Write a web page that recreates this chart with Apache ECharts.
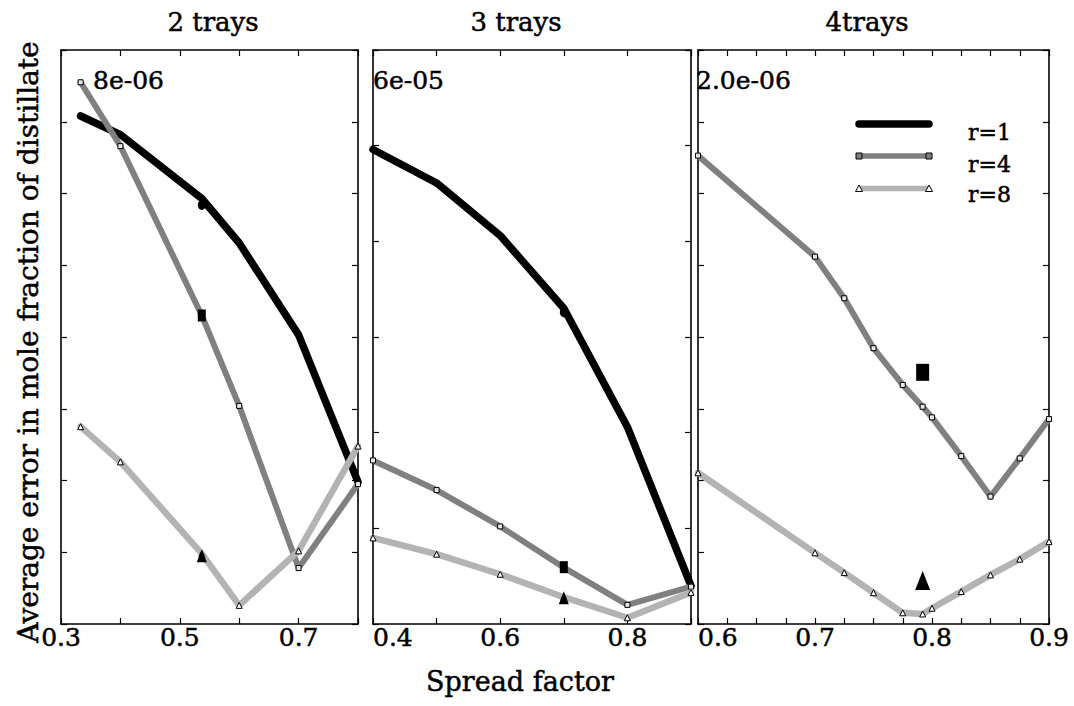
<!DOCTYPE html>
<html><head><meta charset="utf-8">
<script src="https://cdn.jsdelivr.net/npm/echarts@6/dist/echarts.min.js"></script>
<style>html,body{margin:0;padding:0;background:#fff}#c{width:1074px;height:706px}</style>
</head><body><div id="c"></div>
<script>
// ---------- data ----------
const panelTitles = ['2 trays', '3 trays', '4trays'];
const scaleLabels = ['8e-06', '6e-05', '2.0e-06'];
const seriesNames = ['r=1', 'r=4', 'r=8'];
const xAxisName = 'Spread factor';
const yAxisName = 'Average error in mole fraction of distillate';
const xMin = [0.3, 0.4, 0.6];
const xMax = [0.8, 0.9, 0.9];
const xStep = [0.1, 0.1, 0.025];
const yMax = [8e-6, 6e-5, 2e-6];
const yStep = [1e-6, 1e-5, 0.25e-6];
const xTickLabels = [['0.3', '0.5', '0.7'], ['0.4', '0.6', '0.8'], ['0.6', '0.7', '0.8', '0.9']];

const spread2 = [0.333, 0.4, 0.537, 0.6, 0.7, 0.8];
const r1_2 = [7.08e-6, 6.82e-6, 5.93e-6, 5.31e-6, 4.03e-6, 1.98e-6];
const r4_2 = [7.55e-6, 6.66e-6, 4.30e-6, 3.04e-6, 0.78e-6, 1.95e-6];
const r8_2 = [2.75e-6, 2.26e-6, 0.98e-6, 0.26e-6, 1.02e-6, 2.48e-6];

const spread3 = [0.4, 0.5, 0.6, 0.7, 0.8, 0.9];
const r1_3 = [4.96e-5, 4.61e-5, 4.06e-5, 3.30e-5, 2.06e-5, 0.40e-5];
const r4_3 = [1.71e-5, 1.40e-5, 1.02e-5, 0.59e-5, 0.20e-5, 0.39e-5];
const r8_3 = [0.90e-5, 0.73e-5, 0.52e-5, 0.28e-5, 0.065e-5, 0.33e-5];

const spread4 = [0.6, 0.7, 0.725, 0.75, 0.775, 0.792, 0.8, 0.825, 0.85, 0.875, 0.9];
const r4_4 = [1.632e-6, 1.280e-6, 1.135e-6, 0.961e-6, 0.833e-6, 0.757e-6, 0.720e-6, 0.585e-6, 0.444e-6, 0.577e-6, 0.714e-6];
const r8_4 = [0.527e-6, 0.248e-6, 0.179e-6, 0.109e-6, 0.039e-6, 0.035e-6, 0.055e-6, 0.113e-6, 0.171e-6, 0.226e-6, 0.287e-6];

const designSpread = [0.537, 0.7, 0.792];
const designR1 = [5.84e-6, 3.26e-5, null];
const designR4 = [4.30e-6, 0.594e-5, 0.877e-6];
const designR8 = [0.95e-6, 0.274e-5, 0.152e-6];

// ---------- styles ----------
const FONT = 'DejaVu Serif';
const TXT = {color: '#000', fontFamily: FONT, fontWeight: 'normal', textBorderColor: '#000', textBorderWidth: 0.5};
const grids = [
  {left: 61, top: 50, width: 297, height: 574},
  {left: 373, top: 50, width: 318, height: 574},
  {left: 698, top: 50, width: 351, height: 574}
];
const titleCenters = [213, 516, 867];
const scaleLabelLeft = [93, 373, 696];
const lineColors = ['#000000', '#808080', '#b3b3b3'];
const lineWidths = [7.5, 6, 6.5];
const openSym = [null, {symbol: 'rect', size: 5, fill: '#e6e6e6'}, {symbol: 'triangle', size: 6, fill: '#ffffff'}];
const designSym = ['circle', 'rect', 'triangle'];
const designSizes = [
  [[8, 10], [8, 12], [10, 13]],
  [[8, 10], [8, 12], [10, 13]],
  [[8, 10], [13, 17], [15, 19]]
];

const panels = [
  {x: spread2, ys: [r1_2, r4_2, r8_2]},
  {x: spread3, ys: [r1_3, r4_3, r8_3]},
  {x: spread4, ys: [null, r4_4, r8_4]}
];
const designYs = [designR1, designR4, designR8];

const axisLineStyle = {show: true, onZero: false, lineStyle: {color: '#000', width: 1.6}};
const tickStyle = {show: true, inside: true, length: 6, lineStyle: {color: '#000', width: 1.2}};

const xAxes = [], yAxes = [], series = [], titles = [];
panels.forEach((p, k) => {
  const labels = xTickLabels[k];
  xAxes.push({
    type: 'value', gridIndex: k, position: 'bottom', min: xMin[k], max: xMax[k], interval: xStep[k],
    axisLine: axisLineStyle, axisTick: tickStyle, splitLine: {show: false},
    axisLabel: Object.assign({
      show: true, margin: 1, fontSize: 25,
      alignMinLabel: k === 0 ? 'center' : 'left', alignMaxLabel: 'center',
      showMinLabel: true, showMaxLabel: true, hideOverlap: false,
      formatter: v => { const s = String(parseFloat(Number(v).toFixed(3))); return labels.includes(s) ? s : ''; }
    }, TXT)
  });
  xAxes.push({
    type: 'value', gridIndex: k, position: 'top', min: xMin[k], max: xMax[k], interval: xStep[k],
    axisLine: axisLineStyle, axisTick: tickStyle, axisLabel: {show: false}, splitLine: {show: false}
  });
  const yl = {
    type: 'value', gridIndex: k, position: 'left', min: 0, max: yMax[k], interval: yStep[k],
    axisLine: axisLineStyle, axisTick: tickStyle, axisLabel: {show: false}, splitLine: {show: false}
  };
  if (k === 0) {
    Object.assign(yl, {
      name: yAxisName, nameLocation: 'middle', nameGap: 19, nameRotate: 90,
      nameTextStyle: Object.assign({fontSize: 28, padding: [0, 10, 0, 0]}, TXT)
    });
  }
  yAxes.push(yl);
  yAxes.push({
    type: 'value', gridIndex: k, position: 'right', min: 0, max: yMax[k], interval: yStep[k],
    axisLine: axisLineStyle, axisTick: tickStyle, axisLabel: {show: false}, splitLine: {show: false}
  });

  p.ys.forEach((ys, r) => {
    if (!ys) return;
    const sym = openSym[r];
    series.push({
      name: seriesNames[r], type: 'line', xAxisIndex: 2 * k, yAxisIndex: 2 * k,
      data: p.x.map((x, i) => [x, ys[i]]),
      showSymbol: !!sym, symbol: sym ? sym.symbol : 'none', symbolSize: sym ? sym.size : 0,
      itemStyle: sym ? {color: sym.fill, borderColor: '#000', borderWidth: 1, opacity: 1} : {color: lineColors[r]},
      lineStyle: {color: lineColors[r], width: lineWidths[r], cap: 'round', join: 'round', opacity: 1},
      z: 2 + r, animation: false, silent: true
    });
  });
  designYs.forEach((arr, r) => {
    if (arr[k] == null) return;
    series.push({
      name: seriesNames[r] + ' design', type: 'scatter', xAxisIndex: 2 * k, yAxisIndex: 2 * k,
      data: [[designSpread[k], arr[k]]],
      symbol: designSym[r], symbolSize: designSizes[k][r],
      itemStyle: {color: '#000', opacity: 1}, z: 10, animation: false, silent: true
    });
  });

  titles.push({
    text: panelTitles[k], left: titleCenters[k], top: 9, textAlign: 'center', padding: 0,
    textStyle: Object.assign({fontSize: 26}, TXT)
  });
  titles.push({
    text: scaleLabels[k], left: scaleLabelLeft[k], top: 68, padding: 0,
    textStyle: Object.assign({fontSize: 25}, TXT)
  });
});
titles.push({
  text: xAxisName, left: 520, top: 668, textAlign: 'center', padding: 0,
  textStyle: Object.assign({fontSize: 27}, TXT)
});

// legend drawn as graphic (line with end markers)
const legX0 = 859, legX1 = 929, legYs = [124, 156, 188.5], legTextX = 968, legTextDy = [8, 8, 6];
const legend = [];
seriesNames.forEach((nm, r) => {
  const y = legYs[r];
  legend.push({type: 'line', shape: {x1: legX0, y1: y, x2: legX1, y2: y},
    style: {stroke: lineColors[r], lineWidth: r === 0 ? 7.5 : 5.5, lineCap: r === 0 ? 'round' : 'butt'}, z: 20});
  const sym = openSym[r];
  if (sym) {
    [legX0, legX1].forEach(cx => {
      if (sym.symbol === 'rect') {
        legend.push({type: 'rect', shape: {x: cx - 3, y: y - 3, width: 6, height: 6},
          style: {fill: '#808080', stroke: '#000', lineWidth: 1}, z: 21});
      } else {
        legend.push({type: 'polygon', shape: {points: [[cx, y - 3.5], [cx - 3.5, y + 3], [cx + 3.5, y + 3]]},
          style: {fill: '#ffffff', stroke: '#000', lineWidth: 1}, z: 21});
      }
    });
  }
  legend.push({type: 'text', x: legTextX, y: y + legTextDy[r],
    style: {text: nm, fill: '#000', font: '22px "DejaVu Serif"', stroke: '#000', lineWidth: 0.5,
      textVerticalAlign: 'middle', textAlign: 'left'}, z: 21});
});

const chart = echarts.init(document.getElementById('c'), null, {renderer: 'svg'});
chart.setOption({
  animation: false,
  backgroundColor: '#fff',
  title: titles,
  grid: grids,
  xAxis: xAxes,
  yAxis: yAxes,
  series: series,
  graphic: legend
});
</script>
</body></html>
